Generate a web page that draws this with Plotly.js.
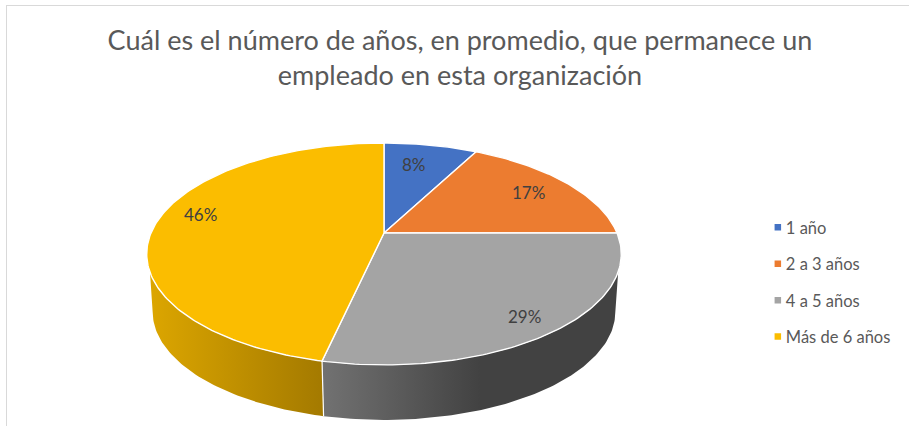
<!DOCTYPE html>
<html><head><meta charset="utf-8">
<script src="https://cdn.plot.ly/plotly-3.0.1.min.js"></script>
<style>html,body{margin:0;padding:0;background:#fff}#c{width:909px;height:426px}</style>
</head><body><div id="c"></div>
<script>
const categories = ["1 año","2 a 3 años","4 a 5 años","Más de 6 años"];
const values = [8,17,29,46];
const colors = ["#4472C4","#EC7C30","#A4A4A4","#FBBD00"];
const titleText = "Cuál es el número de años, en promedio, que permanece un<br>empleado en esta organización";
const labelRadius = [0.73,0.79,0.875,0.78];
const labelShiftX = [-5,0,-1,-7];
const labelShiftY = [2,-1,3,8];

// Perspective projection of the pie disc onto the page axes
const CX=384, CY=233, RX=233, RY=107, P=-0.189, DEPTH=58.3, BASE=0.975;
function project(deg,r,scale,dy){
  const a=deg*Math.PI/180, c0=Math.cos(a);
  const d=(deg-1.55*Math.sin(2*a)-(c0<0?1.2*c0*c0:0))*Math.PI/180;
  const u=r*Math.sin(d), v=-r*Math.cos(d), k=1+P*v;
  return [CX+scale*RX*u/k, CY+dy+scale*RY*v/k];
}
function arc(a,b,scale,dy){
  const n=Math.max(2,Math.ceil(Math.abs(b-a)));
  const pts=[];
  for(let i=0;i<=n;i++) pts.push(project(a+(b-a)*i/n,1,scale,dy));
  return pts;
}
const total=values.reduce((s,v)=>s+v,0);
let acc=0;
const bounds=values.map(v=>{const s=acc; acc+=v; return [s/total*360,acc/total*360];});

const traces=[];
function poly(pts,extra){
  traces.push(Object.assign({type:"scatter",mode:"lines",x:pts.map(p=>p[0]),y:pts.map(p=>p[1]),
    fill:"toself",hoverinfo:"skip",showlegend:false,line:{color:"#ffffff",width:1.4,shape:"linear"}},extra));
}
// side walls
const split=bounds[2][1];
poly(arc(109,split,1,0).concat(arc(split,100.4,BASE,DEPTH)),{
  fillgradient:{type:"horizontal",start:322,stop:480,colorscale:[[0,"#727272"],[1,"#424242"]]},
  line:{color:"rgba(255,255,255,0)",width:0}});
poly(arc(split,251,1,0).concat(arc(259.6,split,BASE,DEPTH)),{
  fillgradient:{type:"horizontal",start:150,stop:322,colorscale:[[0,"#DCA600"],[1,"#A47A00"]]},
  line:{color:"rgba(255,255,255,0)",width:0}});
// separator on the wall
const sepTop=project(split,1,1,0), sepBot=project(split,1,BASE,DEPTH);
traces.push({type:"scatter",mode:"lines",x:[sepTop[0],sepBot[0]],y:[sepTop[1],sepBot[1]],hoverinfo:"skip",showlegend:false,line:{color:"#ffffff",width:1.2}});
// top slices
bounds.forEach((b,i)=>{
  poly([[CX,CY]].concat(arc(b[0],b[1],1,0)).concat([[CX,CY]]),{fillcolor:colors[i]});
});
// legend entries
categories.forEach((c,i)=>{
  traces.push({type:"scatter",mode:"markers",x:[-50],y:[-50],name:c,legendgroup:c,showlegend:true,hoverinfo:"skip",
    marker:{symbol:"square",size:6.5,color:colors[i]}});
});
const annotations=values.map((v,i)=>{
  const mid=(bounds[i][0]+bounds[i][1])/2, p=project(mid,labelRadius[i],1,0);
  return {x:p[0],y:p[1],xref:"x",yref:"y",text:v+"%",showarrow:false,xshift:labelShiftX[i],yshift:labelShiftY[i],
    font:{family:"Lato, Carlito, sans-serif",size:17,color:"#404040"}};
});
const layout={
  width:909,height:426,margin:{l:0,r:0,t:0,b:0,pad:0},paper_bgcolor:"#fff",plot_bgcolor:"#fff",
  xaxis:{visible:false,range:[0,909],fixedrange:true},
  yaxis:{visible:false,range:[426,0],fixedrange:true},
  title:{text:titleText,x:0.506,xanchor:"center",y:0.883,yanchor:"middle",font:{family:"Lato, Carlito, sans-serif",size:27,color:"#595959"}},
  legend:{x:0.8205,xanchor:"left",y:0.338,yanchor:"middle",traceorder:"grouped",tracegroupgap:12,itemwidth:30,bgcolor:"rgba(0,0,0,0)",
    font:{family:"Lato, Carlito, sans-serif",size:16.5,color:"#595959"}},
  annotations:annotations,
  shapes:[
    {type:"line",xref:"x",yref:"y",x0:6,x1:909,y0:5.5,y1:5.5,line:{color:"#D9D9D9",width:1}},
    {type:"line",xref:"x",yref:"y",x0:6.5,x1:6.5,y0:5,y1:426,line:{color:"#D9D9D9",width:1}}
  ]
};
Plotly.newPlot("c",traces,layout,{displayModeBar:false,staticPlot:true}).then(gd=>{
  // the reference keeps its legend swatches close to the labels
  gd.querySelectorAll(".legend .legendsymbols").forEach(g=>g.setAttribute("transform","translate(12,0)"));
});
</script></body></html>
